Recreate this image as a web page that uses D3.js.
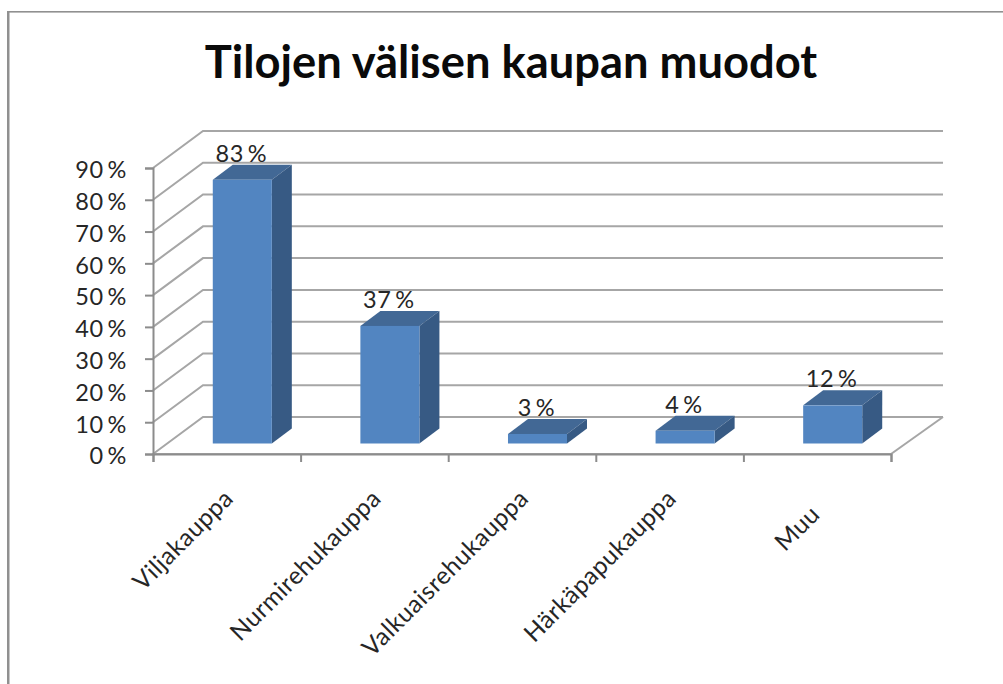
<!DOCTYPE html>
<html><head><meta charset="utf-8">
<script src="https://cdn.jsdelivr.net/npm/d3@7"></script>
<style>
html,body{margin:0;padding:0;background:#fff;overflow:hidden}
svg{display:block}
text{font-family:Lato,"Open Sans",sans-serif;fill:#262626}
</style></head><body>
<svg id="c" width="1003" height="684"></svg>
<script>
const categories = ["Viljakauppa","Nurmirehukauppa","Valkuaisrehukauppa","Härkäpapukauppa","Muu"];
const values = [83,37,3,4,12];
const valueLabels = ["83 %","37 %","3 %","4 %","12 %"];
const yTicks = [0,10,20,30,40,50,60,70,80,90];
const chartTitle = "Tilojen välisen kaupan muodot";

const svg = d3.select("#c");
const x0=153,x1=891,yBase=454,yTop=168,backDx=50,backDy=-37,barDx=20,barDy=-15,barLift=10.5,barShift=15.5;
const grid="#a6a6a6",axisC="#8c8c8c";
const x=d3.scaleBand().domain(categories).range([x0,x1]).paddingInner(0.6).paddingOuter(0.3);
const y=d3.scaleLinear().domain([0,90]).range([yBase,yTop]);
const xTicksScale=d3.scaleLinear().domain([0,categories.length]).range([x0,x1]);

// frame
svg.append("rect").attr("x",7).attr("y",11).attr("width",2.5).attr("height",673).attr("fill","#909090");
svg.append("rect").attr("x",7).attr("y",11).attr("width",996).attr("height",1.6).attr("fill","#909090");

svg.append("text").attr("x",511).attr("y",78).attr("text-anchor","middle")
  .attr("font-size",45.3).attr("font-weight",700).style("fill","#0a0a0a").text(chartTitle);

// gridlines
const g=svg.append("g").attr("fill","none").attr("stroke",grid).attr("stroke-width",2);
yTicks.forEach(t=>{
  g.append("polyline").attr("points",[[x0,y(t)],[x0+backDx,y(t)+backDy],[x1+backDx+2,y(t)+backDy]].join(" "));
});
g.append("line").attr("x1",x1).attr("y1",yBase).attr("x2",x1+backDx+2).attr("y2",yBase+backDy);
g.append("line").attr("x1",x0).attr("y1",yBase).attr("x2",x1).attr("y2",yBase);

// axes
const ay=svg.append("g").attr("transform",`translate(${x0},0)`)
  .call(d3.axisLeft(y).tickValues(yTicks).tickSize(8).tickPadding(18).tickFormat(d=>d+"\u2009%"));
const ax=svg.append("g").attr("transform",`translate(0,${yBase})`)
  .call(d3.axisBottom(xTicksScale).ticks(categories.length).tickSize(8).tickFormat(""));
[ay,ax].forEach(a=>{a.selectAll("path").attr("stroke",axisC).attr("stroke-width",2);
  a.selectAll("line").attr("stroke",axisC).attr("stroke-width",2);});
ay.selectAll("text").attr("font-size",23.5).attr("dy","0.42em").style("letter-spacing","0.7px");

// bars
const bars=svg.append("g").selectAll("g").data(categories).join("g");
const bw=x.bandwidth();
const bx=d=>x(d)+barShift;
const barTop=(i)=>y(values[i])-barLift;
const bot=yBase-barLift;
bars.append("path").attr("fill","#426895").attr("d",(d,i)=>
  `M${bx(d)},${barTop(i)}l${barDx},${barDy}h${bw}l${-barDx},${-barDy}z`);
bars.append("path").attr("fill","#375A84").attr("d",(d,i)=>
  `M${bx(d)+bw},${barTop(i)}l${barDx},${barDy}V${bot+barDy}l${-barDx},${-barDy}z`);
bars.append("rect").attr("fill","#5285C1").attr("x",d=>bx(d)).attr("y",(d,i)=>barTop(i))
  .attr("width",bw).attr("height",(d,i)=>bot-barTop(i));

// value labels
bars.append("text").attr("x",d=>bx(d)+bw/2-1).attr("y",(d,i)=>barTop(i)-18)
  .attr("text-anchor","middle").attr("font-size",23.5).style("letter-spacing","0.7px")
  .text((d,i)=>valueLabels[i].replace(" ","\u2009"));

// category labels
svg.append("g").selectAll("text").data(categories).join("text")
  .attr("text-anchor","end").attr("font-size",24.5).style("letter-spacing","0.5px")
  .attr("transform",d=>`translate(${x(d)+bw/2+(d==="Muu"?4:8)},${d==="Muu"?516:500}) rotate(-45)`)
  .text(d=>d);
</script></body></html>
